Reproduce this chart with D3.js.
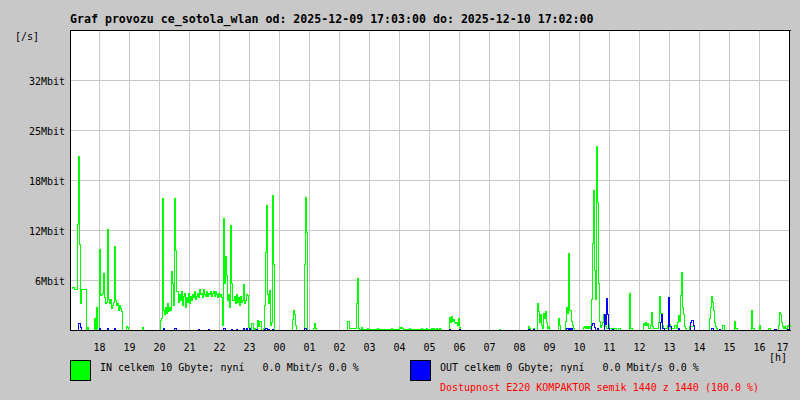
<!DOCTYPE html>
<html><head><meta charset="utf-8">
<script src="https://cdn.jsdelivr.net/npm/d3@7"></script>
<style>
html,body{margin:0;padding:0;background:#c8c8c8;}
svg{display:block;}
text{font-family:"DejaVu Sans Mono","Liberation Mono",monospace;white-space:pre;}
</style></head>
<body>
<svg id="chart" width="800" height="400"></svg>
<script>
const titleText = "Graf provozu ce_sotola_wlan od: 2025-12-09 17:03:00 do: 2025-12-10 17:02:00";
const yTickValues = [6.4, 12.8, 19.2, 25.6, 32];
const yTickLabels = ["6Mbit", "12Mbit", "18Mbit", "25Mbit", "32Mbit"];
const xTickLabels = ["18","19","20","21","22","23","00","01","02","03","04","05","06","07","08","09","10","11","12","13","14","15","16","17"];
const legendIn = "IN celkem 10 Gbyte; nyní   0.0 Mbit/s 0.0 %";
const legendOut = "OUT celkem 0 Gbyte; nyní   0.0 Mbit/s 0.0 %";
const availText = "Dostupnost E220 KOMPAKTOR semik 1440 z 1440 (100.0 %)";
const sampleMinutes = 2;

// IN traffic, Mbit/s, one value per 2 minutes (30 per hour row)
const inMbit = [
 5.4,5.5,5.5,5.3,5.3,5.3,13.6,22.3,11.0,3.4, 5.3,5.3,5.3,5.3,5.2,0,0.4,0,0,0, 0,0,0,1.5,0,3.0,0,0,10.4,4.5,
 4.6,4.8,7.3,4.2,3.4,3.6,12.9,4.0,3.4,4.0, 2.8,3.2,3.6,10.7,3.8,3.2,3.4,2.6,3.2,2.8, 2.4,0,0,0,0,0.5,0.4,0,0,0,
 0,0,0,0,0,0,0,0,0,0, 0,0.4,0,0,0,0,0,0,0,0, 0,0,0,0,0,0,0,0,0,1.3,
 1.5,16.9,2.6,2.0,3.0,2.2,3.4,2.4,3.0,2.6, 7.5,6.0,3.2,16.9,10.2,5.0,5.0,3.6,4.6,3.8, 5.0,3.2,4.4,4.8,3.0,4.2,3.6,4.8,3.4,4.4,
 3.8,4.6,4.2,5.0,4.0,4.4,4.8,4.2,5.2,4.6, 4.8,4.2,5.2,4.6,4.4,5.0,4.4,4.8,4.6,5.0, 4.4,4.8,5.0,4.4,5.0,4.6,4.2,4.8,4.4,4.6,
 4.2,0.6,14.3,6.0,9.5,7.0,3.8,4.6,3.0,13.4, 6.0,3.8,3.8,4.4,3.4,4.6,3.6,4.2,3.2,4.4, 3.6,3.8,5.9,3.4,3.8,4.6,4.5,0.4,0,0,
 0.9,0.9,0,0.3,0,0,1.3,0.5,1.1,1.1, 0,0,0.3,3.2,10.0,16.0,4.6,3.4,5.1,0.6, 1.0,17.3,8.5,0,0,0,0,0,0,0,
 0,0,0,0,0,0,0,0,0,0, 0,1.4,2.6,2.0,0.6,0,0,0,0,0, 0,0,0,8.5,17.0,12.5,0,0,0,0,
 0,0,0.3,0.9,0.3,0,0,0,0,0, 0,0,0,0,0,0,0,0,0,0, 0,0,0,0,0,0,0,0,0,0,
 0,0,0,0,0,0,1.2,1.1,0.2,0.2, 0.2,0.2,0.2,0.2,0.2,3.4,6.6,0.2,0.1,0.1, 0.4,0.1,0.1,0.1,0.1,0.1,0.3,0.1,0.1,0.1,
 0.1,0.1,0.1,0.1,0.1,0.1,0.3,0.1,0.1,0.1, 0.1,0.1,0.1,0.1,0.1,0.1,0.1,0.1,0.1,0.1, 0.3,0.1,0.1,0.1,0.1,0.1,0.1,0.1,0.4,0.3,
 0.4,0.3,0.1,0.1,0.1,0.1,0.1,0.1,0.3,0.1, 0.1,0.1,0.1,0.1,0.1,0.1,0.1,0.1,0.1,0.1, 0.3,0.1,0.1,0.1,0.1,0.3,0.1,0.1,0.1,0.1,
 0.2,0.1,0.2,0.1,0.1,0.2,0.1,0.1,0.2,0.1, 0,0,0,0,0,0,0,0,1.7,1.0, 1.8,1.2,1.4,1.0,0.9,1.0,0.6,1.5,0.4,0,
 0,0,0,0,0,0,0,0,0,0, 0,0,0,0,0,0,0,0,0,0, 0,0,0,0,0,0,0,0,0,0,
 0,0,0,0,0,0,0,0,0.1,0, 0,0,0,0,0,0,0,0,0,0, 0,0,0,0,0,0,0,0,0,0,
 0,0,0,0,0,0,0,0.5,0.3,0, 0,0,0.2,0,0,0,3.5,2.4,1.0,2.0, 0.6,0.3,2.2,1.6,2.4,1.0,0.3,0.5,0,0,
 0,0,0,0,0,0,0,1.5,0.6,0, 0,0,0,0,1.2,3.0,2.2,9.8,2.6,2.6, 1.2,0.6,0.3,0,0,0,0,0,0,0,
 0,0,0.4,0.5,0.3,0.5,0.3,0.5,0.3,0.5, 4.0,11.1,17.9,7.7,4.0,23.5,16.4,6.0,1.1,0.4, 0.6,1.0,2.1,2.0,0.5,0.3,0.3,0.8,0.3,0.3,
 0,0.2,0,0.2,0.2,0,0,0.2,0.2,0, 0,0,0,0,0,0,0,0,4.8,0.3, 0.3,0,0,0,0,0,0,0,0,0,
 0,0,0.9,0.6,1.0,0.6,0.9,0.3,0.3,0.6, 2.3,0.5,0.3,0.2,0.2,0.2,0.2,1.0,4.4,2.2, 2.2,0.6,0.3,0.2,0.3,0.2,0.6,0.6,0.8,0.3,
 0.2,0.2,0.3,0.6,0.6,0.3,1.0,1.9,1.2,4.5, 7.4,3.0,2.1,0.5,0.2,0,0,0,0.5,0.5, 0.5,0.5,0.5,0,0,0,0,0,0,0,
 0,0,0,0,0,0,0,0,1.5,3.0, 4.3,3.6,2.5,1.0,0.5,0.3,0,0,0,0, 0,0.7,0.7,0,0,0,0,0,0,0,
 0,0,0,1.2,0.3,0.3,0,0,0,0, 0,0,0,0,0,0,0,0,0,0, 2.6,0.3,0.3,0,0,0,0,0,0.6,0,
 0,0,0,0,0,0,0,0.2,0.2,0, 0,0,0,0,0,0,0,0.6,2.3,2.1, 1.0,0.5,0.3,0.5,0.3,0,0.6,0.5,0.6,0.5
];

// OUT traffic, Mbit/s, one value per 2 minutes (30 per hour row)
const outMbit = [
 0,0,0,0,0,0,0,0.9,0.9,0.4, 0,0,0,0,0,0,0,0,0,0, 0,0,0,0,0,0,0,0,0.2,0,
 0,0,0,0,0,0,0.2,0,0,0, 0,0,0,0.2,0,0,0,0,0,0, 0,0,0,0,0,0,0,0,0,0,
 0,0,0,0,0,0,0,0,0,0, 0,0,0,0,0,0,0,0,0,0, 0,0,0,0,0,0,0,0,0,0,
 0,0,0.2,0,0,0,0,0,0,0, 0,0,0,0.2,0.2,0,0,0,0,0, 0,0,0,0,0,0,0,0,0,0,
 0,0,0,0,0,0,0,0.1,0,0, 0,0,0,0,0,0,0,0.1,0,0, 0,0,0,0,0,0,0,0,0,0,
 0,0,0.2,0.2,0,0,0,0,0,0, 0.1,0,0,0,0,0.1,0,0,0,0, 0,0,0.2,0,0,0.2,0,0,0.2,0,
 0,0,0,0,0,0.1,0,0,0,0, 0,0,0,0.1,0.2,0.2,0,0.1,0,0, 0,0.1,0,0,0,0,0,0,0,0,
 0,0,0,0,0,0,0,0,0,0, 0,0,0,0,0,0,0,0,0,0, 0,0,0,0.2,0.2,0,0,0,0,0,
 0,0,0,0,0,0,0,0,0,0, 0,0,0,0,0,0,0,0,0,0, 0,0,0,0,0,0,0,0,0,0,
 0,0,0,0,0,0,0,0,0,0, 0,0,0,0,0,0,0,0,0,0, 0,0,0,0,0,0,0,0,0,0,
 0,0,0,0,0,0,0,0,0,0, 0,0,0,0,0,0,0,0,0,0, 0,0,0,0,0,0,0,0,0,0,
 0,0,0,0,0,0,0,0,0,0, 0,0,0,0,0,0,0,0,0,0, 0,0,0,0,0,0,0,0,0,0,
 0,0,0,0,0,0,0,0,0,0, 0,0,0,0,0,0,0,0,0.1,0, 0,0,0,0,0,0,0,0,0.1,0,
 0,0,0,0,0,0,0,0,0,0, 0,0,0,0,0,0,0,0,0,0, 0,0,0,0,0,0,0,0,0,0,
 0,0,0,0,0,0,0,0,0,0, 0,0,0,0,0,0,0,0,0,0, 0,0,0,0,0,0,0,0,0,0,
 0,0,0,0,0,0,0,0.1,0,0, 0,0,0.1,0,0,0,0,0,0,0, 0,0,0,0,0,0,0,0,0,0,
 0,0,0,0,0,0,0,0,0,0, 0,0,0,0,0,0.3,0.3,0,0.2,0, 0.2,0,0,0,0,0,0,0,0,0,
 0,0,0,0,0,0,0,0,0,0, 0.6,0.9,0.9,0.4,0,0,0.3,0,0,0, 0,0,0,2.1,0.8,4.1,2.0,0.3,0,0,
 0,0.1,0,0,0,0,0,0,0,0, 0,0,0,0,0,0,0,0,0,0, 0,0,0,0,0,0,0,0,0,0,
 0,0,0,0,0,0,0,0,0,0, 0,0,0,0,0,0,0,0,0,1.0, 2.1,0.3,0.3,0,0,0,0,4.2,0.5,0.5,
 0,0,0,0,0,0,0,0.2,0,0, 0,0,0,0,0,0,0,0,0,1.0, 1.3,1.3,0.7,0,0,0,0,0,0,0,
 0,0,0,0,0,0,0,0,0,0, 0.3,0.3,0,0,0,0,0,0,0.1,0, 0,0,0,0,0,0,0,0,0,0,
 0,0,0,0,0,0,0,0,0,0, 0,0,0,0,0,0,0,0,0,0, 0,0,0,0,0,0,0,0,0,0,
 0,0,0,0,0,0,0,0,0,0, 0,0,0,0.1,0.1,0,0,0,0,0, 0,0,0,0,0,0,0.1,0,0,0
];

const start = new Date(2025, 11, 9, 17, 3);
const end = new Date(start.getTime() + 1440 * 60000);
const timeOf = i => new Date(start.getTime() + i * sampleMinutes * 60000);

const svg = d3.select("#chart");
svg.append("rect").attr("x",0).attr("y",0).attr("width",800).attr("height",400).attr("fill","#c8c8c8");

const x = d3.scaleTime().domain([start, end]).range([71, 791]);
const y = d3.scaleLinear().domain([0, 38.4]).range([330.5, 30.5]);

// plot area
svg.append("rect").attr("x",70).attr("y",30).attr("width",720).attr("height",300).attr("fill","#ffffff");

const hourTicks = d3.timeHour.range(new Date(2025,11,9,18), new Date(2025,11,10,17,1));

const grid = svg.append("g").attr("stroke","#c8c8c8").attr("stroke-width",1).attr("shape-rendering","crispEdges");
grid.selectAll("line.v").data(hourTicks).join("line").attr("class","v")
  .attr("x1", d => Math.floor(x(d)) + 0.5).attr("x2", d => Math.floor(x(d)) + 0.5)
  .attr("y1", 30).attr("y2", 330);
grid.selectAll("line.h").data(yTickValues).join("line").attr("class","h")
  .attr("x1", 70).attr("x2", 790)
  .attr("y1", d => y(d)).attr("y2", d => y(d));

// data lines (stepped, one pixel per 2-minute sample)
const line = d3.line()
  .x((d,i) => Math.round(x(timeOf(i))) + 0.5)
  .y(d => Math.round(y(d) - 0.5) + 0.5)
  .curve(d3.curveStepAfter);
svg.append("path").datum(inMbit).attr("d", line).attr("fill","none").attr("stroke","#00ff00")
  .attr("stroke-width",1).attr("shape-rendering","crispEdges");
svg.append("path").datum(outMbit).attr("d", line).attr("fill","none").attr("stroke","#0000ff")
  .attr("stroke-width",1).attr("shape-rendering","crispEdges");

// frame
const frame = svg.append("g").attr("stroke","#000").attr("stroke-width",1).attr("shape-rendering","crispEdges");
frame.append("line").attr("x1",70.5).attr("x2",70.5).attr("y1",30).attr("y2",331);
frame.append("line").attr("x1",70).attr("x2",791).attr("y1",30.5).attr("y2",30.5);
frame.append("line").attr("x1",789.5).attr("x2",789.5).attr("y1",30).attr("y2",331);
frame.append("line").attr("x1",70).attr("x2",791).attr("y1",330.5).attr("y2",330.5);

// title
svg.append("text").attr("x",70).attr("y",22.5).attr("font-size","11.6px").attr("font-weight","bold")
  .attr("fill","#000").text(titleText);

// y labels
svg.append("text").attr("x",15).attr("y",40).attr("font-size","10px").attr("fill","#000").text("[/s]");
svg.selectAll("text.yl").data(yTickValues).join("text").attr("class","yl")
  .attr("x",65).attr("y", d => y(d) + 4.5).attr("text-anchor","end").attr("font-size","10px").attr("fill","#000")
  .text((d,i) => yTickLabels[i]);

// x labels
svg.selectAll("text.xl").data(hourTicks).join("text").attr("class","xl")
  .attr("x", (d,i) => i === hourTicks.length - 1 ? 788.5 : Math.floor(x(d)) + 0.5)
  .attr("y", 351).attr("text-anchor", (d,i) => i === hourTicks.length - 1 ? "end" : "middle")
  .attr("font-size","10px").attr("fill","#000")
  .text((d,i) => xTickLabels[i]);
svg.append("text").attr("x",769).attr("y",361).attr("font-size","10px").attr("fill","#000").text("[h]");

// legend
svg.append("rect").attr("x",70.5).attr("y",360.5).attr("width",20).attr("height",20)
  .attr("fill","#00ff00").attr("stroke","#000").attr("shape-rendering","crispEdges");
svg.append("text").attr("x",100).attr("y",371).attr("font-size","10px").attr("fill","#000").text(legendIn);
svg.append("rect").attr("x",410.5).attr("y",360.5).attr("width",20).attr("height",20)
  .attr("fill","#0000ff").attr("stroke","#000").attr("shape-rendering","crispEdges");
svg.append("text").attr("x",440).attr("y",371).attr("font-size","10px").attr("fill","#000").text(legendOut);
svg.append("text").attr("x",440).attr("y",391).attr("font-size","10px").attr("fill","#ff0000").text(availText);
</script>
</body></html>
